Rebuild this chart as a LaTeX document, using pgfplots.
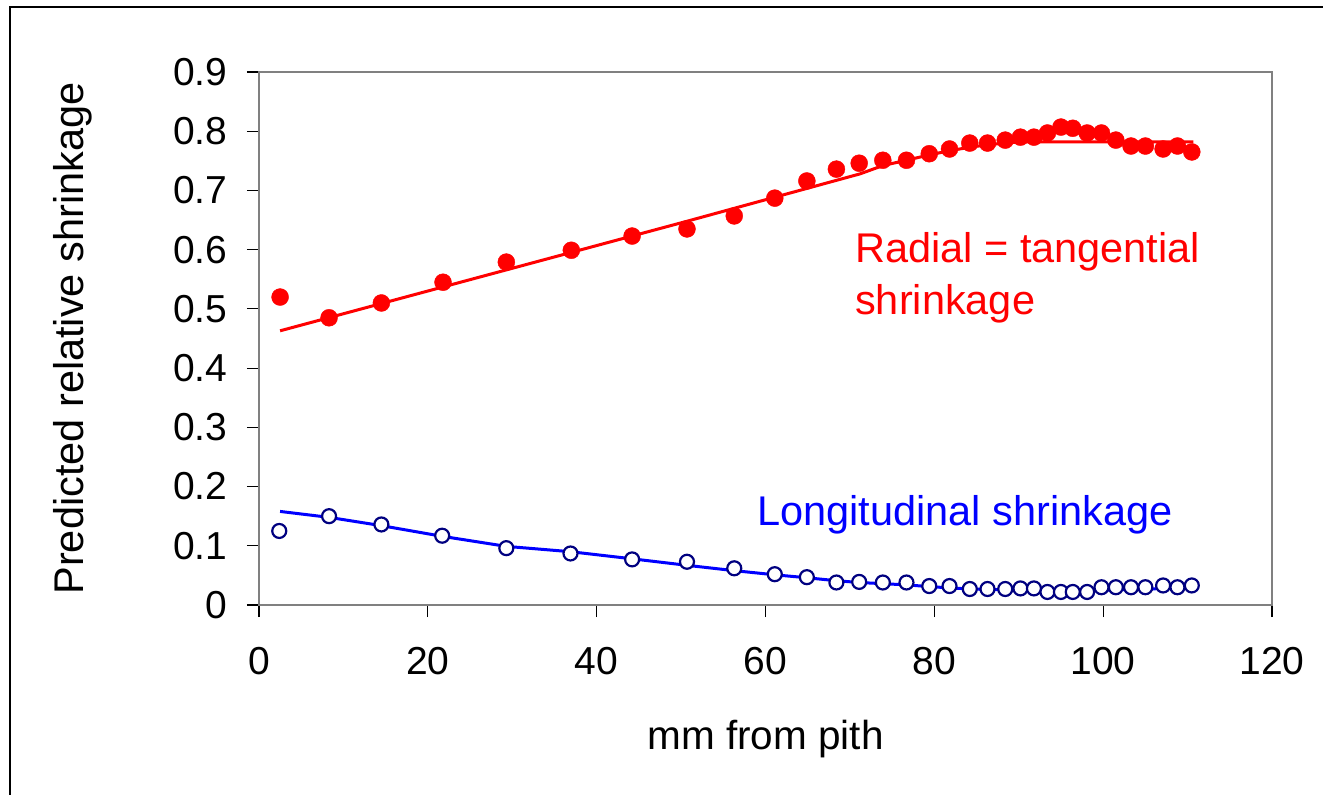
\documentclass[border=0pt]{standalone}
\usepackage{fontspec}
\setmainfont{Liberation Sans}
\usepackage{pgfplots}
\pgfplotsset{compat=1.18}
\definecolor{navymark}{HTML}{000080}
\definecolor{framegrey}{HTML}{808080}

\begin{document}
\begin{tikzpicture}
\useasboundingbox (-259pt,-190pt) rectangle (1064pt,605pt);
\draw[line width=2pt] (-249pt,-195pt) -- (-249pt,598pt) -- (1070pt,598pt);
\begin{axis}[
    scale only axis,
    width=1013pt, height=533pt,
    xmin=0, xmax=120, ymin=0, ymax=0.9,
    xtick={0,20,...,120},
    ytick={0,0.1,...,0.9},
    xtick pos=left, ytick pos=left,
    tick align=outside,
    major tick length=12pt,
    tick style={black, line width=1.2pt},
    axis line style={framegrey, line width=2.5pt},
    ticklabel style={font=\fontsize{39}{46}\selectfont},
    xticklabel style={yshift=-27pt},
    yticklabel style={xshift=-16pt, /pgf/number format/fixed, /pgf/number format/precision=1},
    /pgf/number format/assume math mode=true,
    xlabel={mm from pith},
    ylabel={Predicted relative shrinkage},
    xlabel style={font=\fontsize{40.5}{48}\selectfont, yshift=-38pt},
    ylabel style={font=\fontsize{41.5}{50}\selectfont, yshift=74pt},
    clip=false,
]
% fitted radial = tangential
\addplot[red, line width=3pt, no marks] coordinates {
    (2.5,0.463)(50.7,0.648)(71.2,0.728)(73.9,0.742)(76.7,0.751)(79.4,0.760)
    (81.8,0.767)(84.2,0.773)(86.3,0.777)(88.4,0.780)(90.2,0.782)(92.4,0.782)(110.7,0.782)
};
% measured radial = tangential
\addplot[only marks, mark=*, mark size=8.5pt, mark options={fill=red, draw=red}] coordinates {
    (2.5,0.520)(8.3,0.485)(14.5,0.510)(21.8,0.545)(29.3,0.579)(37.0,0.599)
    (44.2,0.623)(50.7,0.635)(56.3,0.657)(61.1,0.687)(64.9,0.716)(68.4,0.736)
    (71.1,0.746)(73.9,0.751)(76.7,0.751)(79.4,0.762)(81.8,0.770)(84.2,0.780)
    (86.3,0.780)(88.4,0.785)(90.2,0.790)(91.8,0.790)(93.4,0.797)(95.0,0.807)
    (96.4,0.805)(98.1,0.797)(99.8,0.797)(101.5,0.785)(103.3,0.775)(105.0,0.775)
    (107.1,0.770)(108.8,0.775)(110.5,0.765)
};
% fitted longitudinal
\addplot[blue, line width=3pt, no marks] coordinates {
    (2.5,0.158)(8.3,0.148)(14.5,0.134)(21.7,0.116)(29.3,0.099)(36.9,0.090)
    (44.2,0.078)(50.7,0.067)(56.3,0.058)(61.1,0.051)(64.9,0.046)(68.4,0.041)
    (71.1,0.038)(73.9,0.036)(76.7,0.034)(79.4,0.031)(84.2,0.027)(90.0,0.025)
    (95.0,0.024)(100.0,0.025)(105.0,0.027)(110.5,0.029)
};
% measured longitudinal
\addplot[only marks, mark=*, mark size=7pt, mark options={fill=white, draw=navymark, line width=2.2pt}] coordinates {
    (2.4,0.125)(8.3,0.150)(14.5,0.136)(21.7,0.117)(29.3,0.096)(36.9,0.087)
    (44.2,0.077)(50.7,0.073)(56.3,0.062)(61.1,0.052)(64.9,0.047)(68.4,0.038)
    (71.1,0.039)(73.9,0.038)(76.7,0.038)(79.4,0.032)(81.8,0.032)(84.2,0.027)
    (86.3,0.027)(88.4,0.027)(90.2,0.028)(91.8,0.028)(93.4,0.022)(95.0,0.022)
    (96.4,0.022)(98.1,0.022)(99.8,0.030)(101.5,0.030)(103.3,0.030)(105.0,0.030)
    (107.1,0.033)(108.8,0.030)(110.5,0.033)
};
\node[anchor=base west, inner sep=0pt, text=red, font=\fontsize{41.5}{49}\selectfont] at (axis cs:70.6,0.5775) {Radial = tangential};
\node[anchor=base west, inner sep=0pt, text=red, font=\fontsize{41.5}{49}\selectfont] at (axis cs:70.6,0.490) {shrinkage};
\node[anchor=base west, inner sep=0pt, text=blue, font=\fontsize{41.5}{49}\selectfont] at (axis cs:59.0,0.135) {Longitudinal shrinkage};
\end{axis}
\end{tikzpicture}
\end{document}
